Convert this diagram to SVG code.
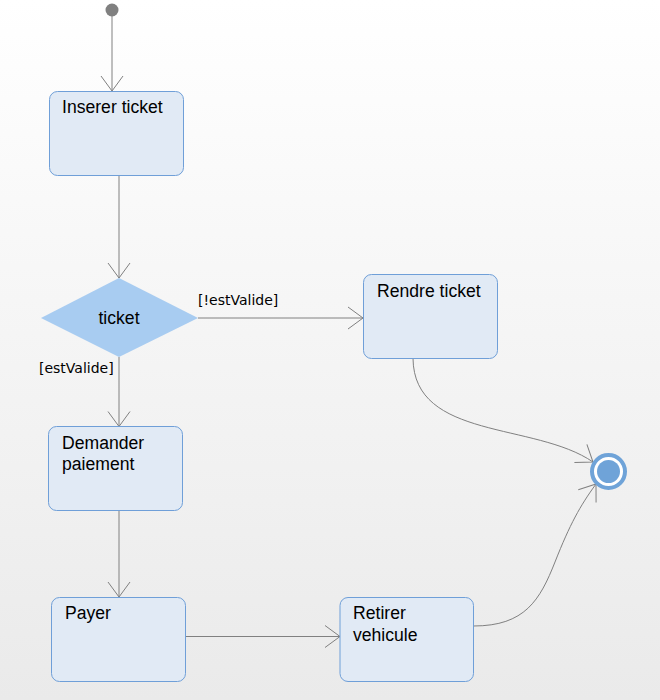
<svg xmlns="http://www.w3.org/2000/svg" width="660" height="700" viewBox="0 0 660 700">
<defs>
<linearGradient id="bg" x1="0" y1="0" x2="0" y2="1">
<stop offset="0" stop-color="#ffffff"/>
<stop offset="1" stop-color="#eaeaea"/>
</linearGradient>
<marker id="arr" markerUnits="userSpaceOnUse" markerWidth="20" markerHeight="26" refX="16" refY="12" orient="auto" viewBox="0 0 20 24">
<path d="M1,1 L16,12 L1,23" fill="none" stroke="#808080" stroke-width="1"/>
</marker>
<style>
.box{fill:#e1eaf5;stroke:#6f9fd8;stroke-width:1}
.lbl{font-family:"Liberation Sans",Arial,sans-serif;font-size:17.6px;fill:#000}
.grd{font-family:"DejaVu Sans",Tahoma,sans-serif;font-size:14px;fill:#000}
.edge{fill:none;stroke:#808080;stroke-width:1}
</style>
</defs>
<rect x="0" y="0" width="660" height="700" fill="url(#bg)"/>
<g id="connectors">
<path class="edge" d="M112,16 L112,91" marker-end="url(#arr)"/>
<path class="edge" d="M119,175.5 L119,278" marker-end="url(#arr)"/>
<path class="edge" d="M198,318 L363,318" marker-end="url(#arr)"/>
<path class="edge" d="M119,357 L119,426.5" marker-end="url(#arr)"/>
<path class="edge" d="M119,510.5 L119,597" marker-end="url(#arr)"/>
<path class="edge" d="M186,636.5 L340,636.5" marker-end="url(#arr)"/>
<path class="edge" d="M413,358.5 C414,440 535,422 593,462" marker-end="url(#arr)"/>
<path class="edge" d="M473.5,626 C525,626 540,600 555,562 S580,506 596,484" marker-end="url(#arr)"/>
<text class="grd" x="198" y="305">[!estValide]</text>
<text class="grd" x="39" y="373">[estValide]</text>
</g>
<g id="start">
<circle cx="112" cy="10" r="6.5" fill="#808080"/>
</g>
<g id="inserer">
<rect class="box" x="49.5" y="91.5" width="134" height="84" rx="8"/>
<text class="lbl" x="62" y="113">Inserer ticket</text>
</g>
<g id="decision">
<polygon points="119,278 198,318 119,357 41,318" fill="#a8ccf1"/>
<text class="lbl" x="119" y="324" text-anchor="middle">ticket</text>
</g>
<g id="rendre">
<rect class="box" x="363.5" y="274.5" width="134" height="84" rx="8"/>
<text class="lbl" x="377" y="297">Rendre ticket</text>
</g>
<g id="demander">
<rect class="box" x="48.5" y="426.5" width="134" height="84" rx="8"/>
<text class="lbl" x="62" y="449">Demander</text>
<text class="lbl" x="62" y="470">paiement</text>
</g>
<g id="payer">
<rect class="box" x="51.5" y="597.5" width="134" height="84" rx="8"/>
<text class="lbl" x="65" y="619">Payer</text>
</g>
<g id="retirer">
<rect class="box" x="340" y="597.5" width="133.5" height="84" rx="8"/>
<text class="lbl" x="353" y="619">Retirer</text>
<text class="lbl" x="353" y="641">vehicule</text>
</g>
<g id="end">
<circle cx="608.5" cy="471.5" r="16.5" fill="#ffffff" stroke="#6fa3d8" stroke-width="4"/>
<circle cx="608.5" cy="471.5" r="11.5" fill="#6fa3d8"/>
</g>
</svg>
